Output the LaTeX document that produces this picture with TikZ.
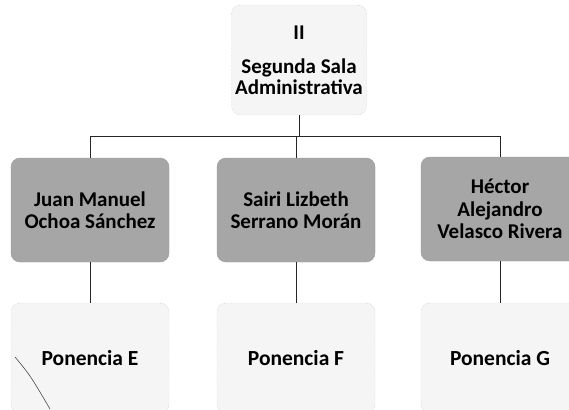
\documentclass[tikz,border=0pt]{standalone}
\usepackage{fontspec}
\setmainfont{Carlito}
\usetikzlibrary{positioning}

\tikzset{
    salabox/.style={draw=gray!55, densely dotted, fill=gray!8, rounded corners=9pt,
        minimum width=135pt, minimum height=110pt, inner sep=0pt, align=center,
        font=\fontsize{21}{21}\selectfont\bfseries},
    magbox/.style={draw=gray!80, fill=gray!70, rounded corners=9pt,
        minimum width=158pt, minimum height=104pt, inner sep=0pt, align=center,
        font=\fontsize{21}{22.5}\selectfont\bfseries},
    ponbox/.style={draw=gray!55, densely dotted, fill=gray!8, rounded corners=9pt,
        minimum width=158pt, minimum height=110pt, inner sep=0pt, align=center,
        font=\fontsize{21.5}{22}\selectfont\bfseries},
    orgline/.style={draw=black!85, line width=0.8pt}
}

\begin{document}
\begin{tikzpicture}[x=1pt,y=-1pt]
    \useasboundingbox (0,0) rectangle (569,409);
    \clip (0,0) rectangle (569,409);

    % sala
    \node[salabox] (sala) at (299,60) {II\\[13pt]Segunda Sala\\Administrativa};

    % magistrados
    \node[magbox] (juan) at (90,210) {Juan Manuel\\Ochoa Sánchez};
    \node[magbox] (sairi) at (296,210) {Sairi Lizbeth\\Serrano Morán};
    \node[magbox] (hector) at (500,209) {Héctor\\Alejandro\\Velasco Rivera};

    % ponencias
    \node[ponbox] (ponE) at (90,358) {Ponencia E};
    \node[ponbox] (ponF) at (296,358) {Ponencia F};
    \node[ponbox] (ponG) at (500,358) {Ponencia G};

    % lines
    \coordinate (bus) at (0,136);
    \draw[orgline] (sala.south) -- (sala.south |- bus);
    \draw[orgline] (juan.north) -- (juan.north |- bus) -| (hector.north);
    \draw[orgline] (sairi.north) -- (sairi.north |- bus);
    \draw[orgline] (juan) -- (ponE);
    \draw[orgline] (sairi) -- (ponF);
    \draw[orgline] (hector) -- (ponG);

    % pen mark
    \draw[black!70, line width=0.6pt] (15,357) .. controls (30,375) .. (50,409);
\end{tikzpicture}
\end{document}
